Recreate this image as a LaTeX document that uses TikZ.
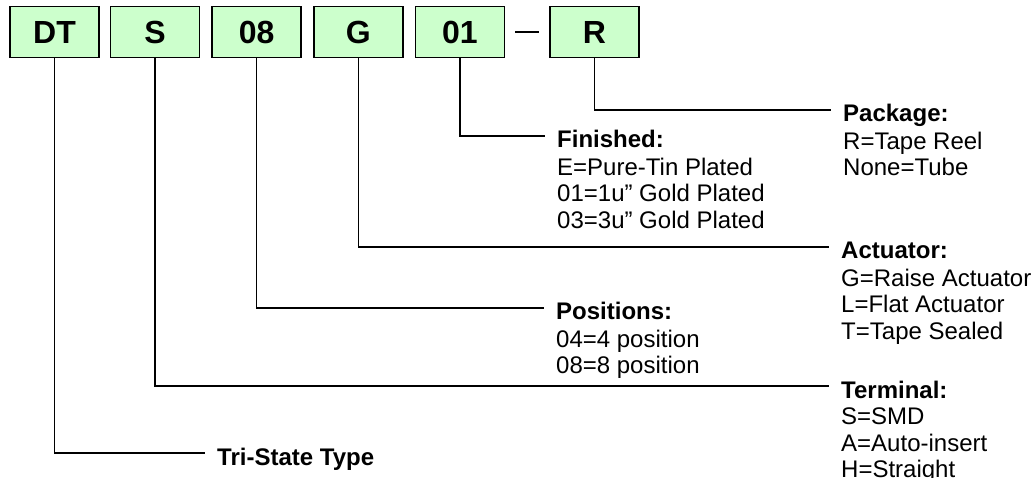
\documentclass[tikz,border=0pt]{standalone}
\usepackage{fontspec}
\setmainfont{Liberation Sans}
\usetikzlibrary{positioning}
\definecolor{partgreen}{HTML}{CCFFCC}

\begin{document}
\begin{tikzpicture}[x=1pt, y=1pt,
    partbox/.style={draw, line width=1.6pt, fill=partgreen, minimum width=89pt,
        minimum height=51pt, inner sep=0pt, font=\fontsize{32}{36}\selectfont\bfseries},
    title/.style={inner sep=0pt, anchor=base west, text height=24pt, text depth=0pt,
        font=\fontsize{24}{26.7}\selectfont\bfseries},
    vals/.style={inner sep=0pt, align=left, font=\fontsize{24}{26.7}\selectfont},
    conn/.style={line width=1.5pt, shorten >=12pt},
    node distance=11pt]
    \useasboundingbox (0,0) rectangle (1031,-478);
    % part number boxes
    \node[partbox] (dt) at (54.5,-32) {DT};
    \node[partbox, right=10pt of dt] (s) {S};
    \node[partbox, right=of s] (pos) {08};
    \node[partbox, right=of pos] (act) {G};
    \node[partbox, right=of act] (fin) {01};
    \node[partbox, right=44pt of fin] (pkg) {R};
    \draw[line width=1.5pt, shorten <=10pt, shorten >=10pt] (fin.east) -- (pkg.west);
    % descriptions
    \node[title] (pkgt) at (843,-122) {Package:};
    \node[vals, below=9.5pt of pkgt.base west, anchor=north west] (pkgv) {R=Tape Reel\\None=Tube};
    \node[title] (fint) at (557,-148) {Finished:};
    \node[vals, below=9.5pt of fint.base west, anchor=north west] (finv)
        {E=Pure-Tin Plated\\01=1u” Gold Plated\\03=3u” Gold Plated};
    \node[title] (actt) at (841,-259) {Actuator:};
    \node[vals, below=9.5pt of actt.base west, anchor=north west] (actv)
        {G=Raise Actuator\\L=Flat Actuator\\T=Tape Sealed};
    \node[title] (post) at (556,-320) {Positions:};
    \node[vals, below=9.5pt of post.base west, anchor=north west] (posv)
        {04=4 position\\08=8 position};
    \node[title] (termt) at (841,-398) {Terminal:};
    \node[vals, below=9.5pt of termt.base west, anchor=north west] (termv)
        {S=SMD\\A=Auto-insert\\H=Straight};
    \node[title] (tri) at (217,-465) {Tri-State Type};
    % leaders
    \draw[conn] (pkg.south) |- (pkgt.west);
    \draw[conn] (fin.south) |- (fint.west);
    \draw[conn] (act.south) |- (actt.west);
    \draw[conn] (pos.south) |- (post.west);
    \draw[conn] (s.south) |- (termt.west);
    \draw[conn] (dt.south) |- (tri.west);
\end{tikzpicture}
\end{document}
